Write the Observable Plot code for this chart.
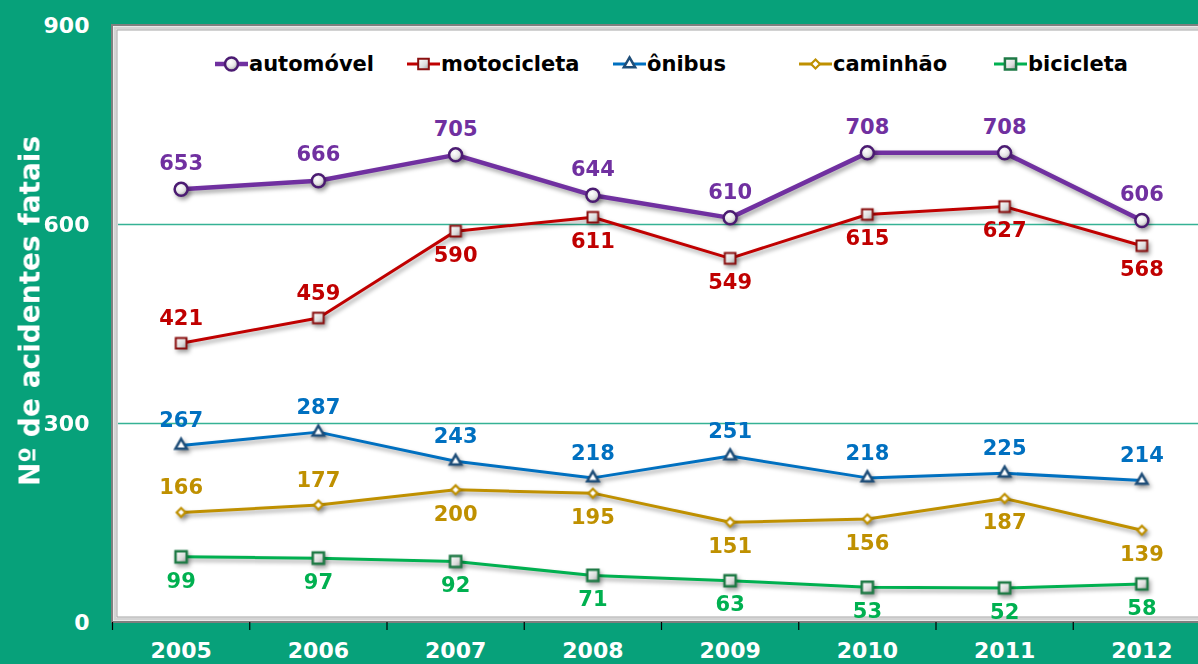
<!DOCTYPE html>
<html><head><meta charset="utf-8">
<script src="https://cdn.jsdelivr.net/npm/d3@7"></script>
<script src="https://cdn.jsdelivr.net/npm/@observablehq/plot@0.6"></script>
<style>
html,body{margin:0;padding:0;overflow:hidden;background:#07a17a;width:1198px;height:664px;}
#wrap{position:relative;width:1198px;height:664px;overflow:hidden;font-family:"DejaVu Sans",Verdana,sans-serif;background:#07a17a;}
#wrap > svg{position:absolute;left:0;top:0;max-width:none !important;width:1240px !important;height:664px !important;}
#legend{position:absolute;top:52px;left:0;width:1198px;height:24px;font-weight:bold;font-size:21px;color:#000;line-height:24px;white-space:nowrap;}
.item{position:absolute;top:0;display:flex;align-items:center;}
.item svg{margin-right:1px}
</style></head><body><div id="wrap"><div id="legend"></div></div>
<script>
// ---- data ----
const years = [2005, 2006, 2007, 2008, 2009, 2010, 2011, 2012];
const seriesNames = ["automóvel", "motocicleta", "ônibus", "caminhão", "bicicleta"];
const automovel   = [653, 666, 705, 644, 610, 708, 708, 606];
const motocicleta = [421, 459, 590, 611, 549, 615, 627, 568];
const onibus      = [267, 287, 243, 218, 251, 218, 225, 214];
const caminhao    = [166, 177, 200, 195, 151, 156, 187, 139];
const bicicleta   = [99, 97, 92, 71, 63, 53, 52, 58];
const yTicks = [0, 300, 600, 900];
const yTitle = "Nº de acidentes fatais";

const valuesBySeries = {"automóvel": automovel, "motocicleta": motocicleta, "ônibus": onibus, "caminhão": caminhao, "bicicleta": bicicleta};
const rows = seriesNames.flatMap(s => years.map((y, i) => ({series: s, year: y, i, value: valuesBySeries[s][i]})));

// ---- styles ----
const styles = {
  "automóvel":   {color: "#7030a0", width: 4.5, symbol: "circle",   r: 6.5, fill: "url(#gBall)", stroke: "#4b1b72", sw: 2.5, legendLeft: 215},
  "motocicleta": {color: "#c00000", width: 3,   symbol: "square",   r: 6.0, fill: "url(#gSq)",   stroke: "#8a0f0f", sw: 2,   legendLeft: 407},
  "ônibus":      {color: "#0070c0", width: 3,   symbol: "triangle", r: 4.2, fill: "#ffffff",     stroke: "#1f4e79", sw: 2.5, legendLeft: 613},
  "caminhão":    {color: "#bf9000", width: 3,   symbol: "diamond2", r: 4.0, fill: "#ffffff",     stroke: "#bf9000", sw: 2.2, legendLeft: 799},
  "bicicleta":   {color: "#00b050", width: 3,   symbol: "square",   r: 6.3, fill: "url(#gSq)",   stroke: "#1e7a45", sw: 2.5, legendLeft: 994}
};
const above = (d) => d.series === "automóvel" || d.series === "ônibus" || ((d.series === "motocicleta" || d.series === "caminhão") && d.i < 2);

const defs = () => {
  const g = d3.create("svg:defs");
  const rg = g.append("radialGradient").attr("id", "gBall").attr("cx", "40%").attr("cy", "35%").attr("r", "70%");
  rg.append("stop").attr("offset", "0%").attr("stop-color", "#ffffff");
  rg.append("stop").attr("offset", "55%").attr("stop-color", "#e6e6e6");
  rg.append("stop").attr("offset", "100%").attr("stop-color", "#9a9a9a");
  const lg = g.append("linearGradient").attr("id", "gSq").attr("x1", "0").attr("y1", "0").attr("x2", "1").attr("y2", "1");
  lg.append("stop").attr("offset", "0%").attr("stop-color", "#ffffff");
  lg.append("stop").attr("offset", "60%").attr("stop-color", "#dcdcdc");
  lg.append("stop").attr("offset", "100%").attr("stop-color", "#9c9c9c");
  return g.node();
};

// plot-area border: top, left and bottom edges only (the right edge is cut off in the reference)
const border = (index, scales, values, dim) => {
  const g = d3.create("svg:g").attr("fill", "none");
  const L = dim.marginLeft, T = dim.marginTop, B = dim.height - dim.marginBottom, R = dim.width + 20;
  const layers = [[0, "#7f7f7f", 2], [3, "#d4d4d4", 3], [5, "#a5a5a5", 1]];
  for (const [k, c, w] of layers) {
    g.append("path").attr("d", `M${R},${T + k}H${L + k}V${B - k}H${R}`).attr("stroke", c).attr("stroke-width", w);
  }
  return g.node();
};

const boundaries = years.map(y => y - 0.5);
const order = [...seriesNames].reverse();

const chart = Plot.plot({
  width: 1240, height: 664,
  marginLeft: 112, marginTop: 25, marginBottom: 42, marginRight: 0,
  style: {background: "transparent", fontFamily: "'DejaVu Sans', Verdana, sans-serif", overflow: "hidden", maxWidth: "none"},
  x: {type: "linear", domain: [2004.5, 2012.5], range: [112, 1210]},
  y: {domain: [0, 900], range: [622, 25]},
  marks: [
    defs,
    Plot.frame({fill: "white", stroke: "none"}),
    Plot.ruleY([300, 600], {stroke: "#35b295", strokeWidth: 1.5, insetLeft: 6}),
    border,
    ...order.map(s => Plot.line(rows.filter(d => d.series === s), {x: "year", y: "value", stroke: styles[s].color, strokeWidth: styles[s].width})),
    ...order.map(s => Plot.dot(rows.filter(d => d.series === s), {x: "year", y: "value", symbol: styles[s].symbol, r: styles[s].r, fill: styles[s].fill, stroke: styles[s].stroke, strokeWidth: styles[s].sw})),
    ...seriesNames.map(s => Plot.text(rows.filter(d => d.series === s && above(d)), {x: "year", y: "value", text: d => String(d.value), fill: styles[s].color, fontSize: 21, fontWeight: "bold", dy: s === "automóvel" ? -26 : -25})),
    ...seriesNames.map(s => Plot.text(rows.filter(d => d.series === s && !above(d)), {x: "year", y: "value", text: d => String(d.value), fill: styles[s].color, fontSize: 21, fontWeight: "bold", dy: 24})),
    Plot.axisY({ticks: yTicks, tickSize: 0, tickPadding: 23, color: "white", fontSize: 22, fontWeight: "bold", label: null, tickFormat: d => String(d)}),
    Plot.axisX({ticks: years, tickSize: 0, tickPadding: 20, color: "white", fontSize: 22, fontWeight: "bold", label: null, tickFormat: d => String(d)}),
    Plot.axisX({ticks: boundaries, tickSize: 8, stroke: "black", strokeWidth: 1.2, label: null, tickFormat: () => ""}),
    Plot.text([yTitle], {text: d => d, frameAnchor: "left", textAnchor: "middle", rotate: -90, dx: -82, dy: -13, fill: "white", fontSize: 28, fontWeight: "bold"})
  ]
});

d3.select(chart).selectAll('g[aria-label="line"], g[aria-label="dot"]').style("filter", "drop-shadow(2px 3px 2px rgba(0,0,0,0.35))");
const wrap = document.getElementById("wrap");
wrap.insertBefore(chart, wrap.firstChild);

// legend
const legend = d3.select("#legend");
const symMap = {circle: d3.symbolCircle, square: d3.symbolSquare, triangle: d3.symbolTriangle, diamond2: d3.symbolDiamond2};
for (const s of seriesNames) {
  const st = styles[s];
  const item = legend.append("div").attr("class", "item").style("left", st.legendLeft + "px");
  const svg = item.append("svg").attr("width", 33).attr("height", 20).style("overflow", "visible");
  svg.append("line").attr("x1", 0).attr("x2", 33).attr("y1", 10).attr("y2", 10).attr("stroke", st.color).attr("stroke-width", st.width);
  svg.append("path").attr("transform", "translate(16.5,10)")
    .attr("d", d3.symbol(symMap[st.symbol], st.r * st.r * Math.PI)())
    .attr("fill", st.fill).attr("stroke", st.stroke).attr("stroke-width", st.sw);
  item.append("span").text(s);
}
</script></body></html>
